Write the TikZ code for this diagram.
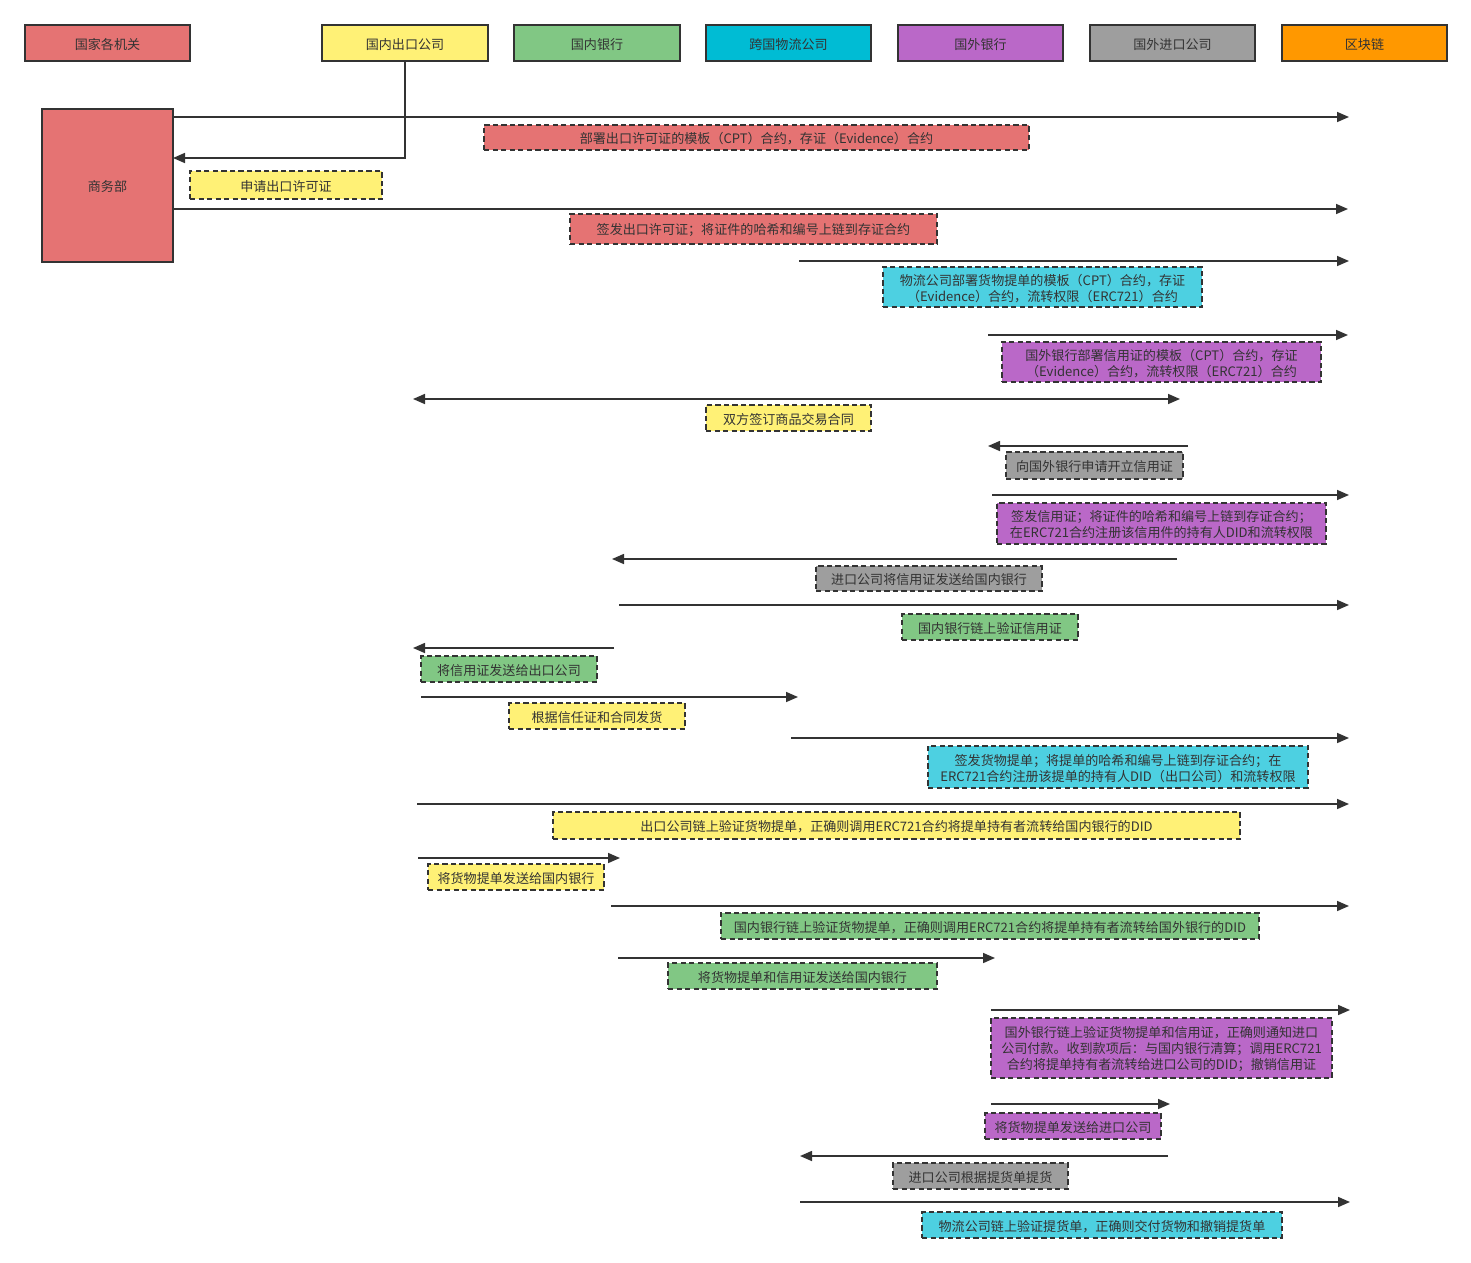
\documentclass[tikz,border=0pt]{standalone}
\usepackage{fontspec}
\setmainfont{Noto Sans CJK SC}
\usetikzlibrary{arrows.meta}
\definecolor{cRed}{RGB}{229,115,115}
\definecolor{cYel}{RGB}{255,241,118}
\definecolor{cGrn}{RGB}{129,199,132}
\definecolor{cCyanH}{RGB}{0,188,212}
\definecolor{cCyan}{RGB}{77,208,225}
\definecolor{cPur}{RGB}{186,104,200}
\definecolor{cGry}{RGB}{158,158,158}
\definecolor{cOrg}{RGB}{255,152,0}
\definecolor{cLine}{RGB}{51,51,51}
\tikzset{
  hdr/.style={draw=cLine, line width=1.4pt, inner sep=0pt},
  lbl/.style={draw=cLine, line width=1.1pt, dash pattern=on 4pt off 2.4pt, inner sep=0pt},
  txt/.style={text=cLine, inner sep=0pt, align=center, font=\fontsize{9.8}{12}\selectfont},
  arr/.style={draw=cLine, line width=1.2pt, -{Triangle[length=9pt,width=7.5pt]}},
  darr/.style={draw=cLine, line width=1.2pt, {Triangle[length=9pt,width=7.5pt]}-{Triangle[length=9pt,width=7.5pt]}},
}
\newcommand\boxat[7]{\node[#6,minimum width={(#4-#2)*0.75pt},minimum height={(#5-#3)*0.75pt}] (#1) at ({(#2+#4)/2},{(#3+#5)/2}) {};
\node[txt] (#1t) at ([yshift=-1.1pt]#1.center) {#7};}
\begin{document}
\begin{tikzpicture}[x=0.75pt,y=-0.75pt]
\useasboundingbox (0,0) rectangle (1471,1263);
% headers
\boxat{hGov}{25}{25}{190}{61}{hdr,fill=cRed}{国家各机关}
\boxat{hExp}{322}{25}{488}{61}{hdr,fill=cYel}{国内出口公司}
\boxat{hDB}{514}{25}{680}{61}{hdr,fill=cGrn}{国内银行}
\boxat{hLog}{706}{25}{871}{61}{hdr,fill=cCyanH}{跨国物流公司}
\boxat{hFB}{898}{25}{1063}{61}{hdr,fill=cPur}{国外银行}
\boxat{hImp}{1090}{25}{1255}{61}{hdr,fill=cGry}{国外进口公司}
\boxat{hBC}{1282}{25}{1447}{61}{hdr,fill=cOrg}{区块链}
% 商务部
\boxat{mof}{42}{109}{173}{262}{hdr,fill=cRed}{商务部}
% connectors
\coordinate (c0) at (173,158);
\draw[arr] (hExp.south) |- (c0);

\coordinate (a1s) at (173,117); \coordinate (a1e) at (1349,117);
\draw[arr] (a1s) -- (a1e);
\boxat{l1}{484}{125}{1029}{150}{lbl,fill=cRed}{部署出口许可证的模板（CPT）合约，存证（Evidence）合约}
\boxat{l2}{190}{171}{382}{199}{lbl,fill=cYel}{申请出口许可证}

\coordinate (a3s) at (173,209); \coordinate (a3e) at (1348,209);
\draw[arr] (a3s) -- (a3e);
\boxat{l3}{570}{214}{937}{244}{lbl,fill=cRed}{签发出口许可证；将证件的哈希和编号上链到存证合约}

\coordinate (a4s) at (799,261); \coordinate (a4e) at (1349,261);
\draw[arr] (a4s) -- (a4e);
\boxat{l4}{883}{267}{1202}{307}{lbl,fill=cCyan}{物流公司部署货物提单的模板（CPT）合约，存证\\（Evidence）合约，流转权限（ERC721）合约}

\coordinate (a5s) at (988,335); \coordinate (a5e) at (1348,335);
\draw[arr] (a5s) -- (a5e);
\boxat{l5}{1002}{342}{1321}{382}{lbl,fill=cPur}{国外银行部署信用证的模板（CPT）合约，存证\\（Evidence）合约，流转权限（ERC721）合约}

\coordinate (a6s) at (413,399); \coordinate (a6e) at (1180,399);
\draw[darr] (a6s) -- (a6e);
\boxat{l6}{706}{405}{871}{431}{lbl,fill=cYel}{双方签订商品交易合同}

\coordinate (a7s) at (1188,446); \coordinate (a7e) at (988,446);
\draw[arr] (a7s) -- (a7e);
\boxat{l7}{1006}{452}{1183}{479}{lbl,fill=cGry}{向国外银行申请开立信用证}

\coordinate (a8s) at (992,495); \coordinate (a8e) at (1349,495);
\draw[arr] (a8s) -- (a8e);
\boxat{l8}{997}{503}{1326}{544}{lbl,fill=cPur}{签发信用证；将证件的哈希和编号上链到存证合约；\\在ERC721合约注册该信用件的持有人DID和流转权限}

\coordinate (a9s) at (1177,559); \coordinate (a9e) at (612,559);
\draw[arr] (a9s) -- (a9e);
\boxat{l9}{816}{566}{1042}{591}{lbl,fill=cGry}{进口公司将信用证发送给国内银行}

\coordinate (a10s) at (619,605); \coordinate (a10e) at (1349,605);
\draw[arr] (a10s) -- (a10e);
\boxat{l10}{902}{614}{1078}{640}{lbl,fill=cGrn}{国内银行链上验证信用证}

\coordinate (a11s) at (614,648); \coordinate (a11e) at (413,648);
\draw[arr] (a11s) -- (a11e);
\boxat{l11}{421}{656}{597}{682}{lbl,fill=cGrn}{将信用证发送给出口公司}

\coordinate (a12s) at (421,697); \coordinate (a12e) at (798,697);
\draw[arr] (a12s) -- (a12e);
\boxat{l12}{509}{703}{685}{729}{lbl,fill=cYel}{根据信任证和合同发货}

\coordinate (a13s) at (791,738); \coordinate (a13e) at (1349,738);
\draw[arr] (a13s) -- (a13e);
\boxat{l13}{928}{746}{1308}{788}{lbl,fill=cCyan}{签发货物提单；将提单的哈希和编号上链到存证合约；在\\ERC721合约注册该提单的持有人DID（出口公司）和流转权限}

\coordinate (a14s) at (417,804); \coordinate (a14e) at (1349,804);
\draw[arr] (a14s) -- (a14e);
\boxat{l14}{553}{812}{1240}{839}{lbl,fill=cYel}{出口公司链上验证货物提单，正确则调用ERC721合约将提单持有者流转给国内银行的DID}

\coordinate (a15s) at (418,858); \coordinate (a15e) at (620,858);
\draw[arr] (a15s) -- (a15e);
\boxat{l15}{428}{864}{604}{890}{lbl,fill=cYel}{将货物提单发送给国内银行}

\coordinate (a16s) at (611,906); \coordinate (a16e) at (1349,906);
\draw[arr] (a16s) -- (a16e);
\boxat{l16}{721}{913}{1259}{939}{lbl,fill=cGrn}{国内银行链上验证货物提单，正确则调用ERC721合约将提单持有者流转给国外银行的DID}

\coordinate (a17s) at (618,958); \coordinate (a17e) at (995,958);
\draw[arr] (a17s) -- (a17e);
\boxat{l17}{668}{963}{937}{989}{lbl,fill=cGrn}{将货物提单和信用证发送给国内银行}

\coordinate (a18s) at (991,1010); \coordinate (a18e) at (1350,1010);
\draw[arr] (a18s) -- (a18e);
\boxat{l18}{991}{1018}{1332}{1078}{lbl,fill=cPur}{国外银行链上验证货物提单和信用证，正确则通知进口\\公司付款。收到款项后：与国内银行清算；调用ERC721\\合约将提单持有者流转给进口公司的DID；撤销信用证}

\coordinate (a19s) at (991,1104); \coordinate (a19e) at (1170,1104);
\draw[arr] (a19s) -- (a19e);
\boxat{l19}{985}{1113}{1161}{1139}{lbl,fill=cPur}{将货物提单发送给进口公司}

\coordinate (a20s) at (1168,1156); \coordinate (a20e) at (800,1156);
\draw[arr] (a20s) -- (a20e);
\boxat{l20}{893}{1163}{1068}{1189}{lbl,fill=cGry}{进口公司根据提货单提货}

\coordinate (a21s) at (800,1202); \coordinate (a21e) at (1350,1202);
\draw[arr] (a21s) -- (a21e);
\boxat{l21}{922}{1212}{1282}{1238}{lbl,fill=cCyan}{物流公司链上验证提货单，正确则交付货物和撤销提货单}
\end{tikzpicture}
\end{document}
